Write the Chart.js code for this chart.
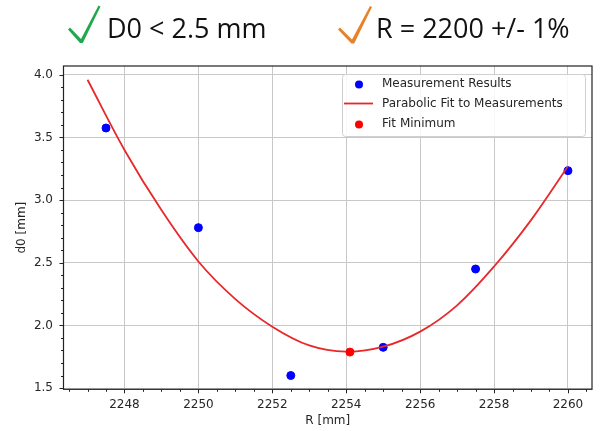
<!DOCTYPE html>
<html>
<head>
<meta charset="utf-8">
<script src="https://cdn.jsdelivr.net/npm/chart.js@4/dist/chart.umd.min.js"></script>
<style>
  body { margin: 0; background: #fff; }
</style>
</head>
<body>
<canvas id="fit-canvas" width="600" height="431"></canvas>
<script>
// header texts
const headLeft = "D0 < 2.5 mm";
const headRight = "R = 2200 +/- 1%";

// measurements
const rValues = [2247.5, 2250, 2252.5, 2255, 2257.5, 2260];
const d0Values = [3.575, 2.78, 1.60, 1.825, 2.45, 3.235];

// parabolic fit curve
const fitR = [2247, 2248, 2249, 2250, 2251, 2252, 2253, 2254, 2255, 2256, 2257, 2258, 2259, 2260];
const fitD0 = [3.96, 3.40, 2.92, 2.51, 2.21, 1.99, 1.84, 1.79, 1.83, 1.95, 2.16, 2.47, 2.84, 3.27];

// minimum of the fit
const minR = [2254.1];
const minD0 = [1.787];

// axis ticks
const xTicks = [2248, 2250, 2252, 2254, 2256, 2258, 2260];
const yTicks = [1.5, 2.0, 2.5, 3.0, 3.5, 4.0];

const canvas = document.getElementById("fit-canvas");

function toPoints(xs, ys) {
    const pts = [];
    for (let i = 0; i < xs.length; i++) {
        pts.push({ x: xs[i], y: ys[i] });
    }
    return pts;
}

function drawCheck(ctx, pts, color) {
    ctx.fillStyle = color;
    ctx.beginPath();
    ctx.moveTo(pts[0][0], pts[0][1]);
    for (let i = 1; i < pts.length; i++) ctx.lineTo(pts[i][0], pts[i][1]);
    ctx.closePath();
    ctx.fill();
}

// frame, ticks, legend and header in matplotlib style
const decorations = {
    id: "decorations",
    afterDraw(chart) {
        const ctx = chart.ctx;
        const a = chart.chartArea;
        const x = chart.scales.x;
        const y = chart.scales.y;
        ctx.save();

        // tick marks
        ctx.strokeStyle = "#222";
        ctx.lineWidth = 1;
        ctx.beginPath();
        for (let v = 2246.5; v <= 2260.6; v += 0.5) {
            const px = Math.round(x.getPixelForValue(v)) + 0.5;
            const major = xTicks.some(t => Math.abs(t - v) < 0.01);
            ctx.moveTo(px, a.bottom);
            ctx.lineTo(px, a.bottom + (major ? 4 : 2.5));
        }
        for (let v = 1.5; v <= 4.05; v += 0.1) {
            const py = Math.round(y.getPixelForValue(v)) + 0.5;
            const major = yTicks.some(t => Math.abs(t - v) < 0.01);
            ctx.moveTo(a.left, py);
            ctx.lineTo(a.left - (major ? 4 : 2.5), py);
        }
        ctx.stroke();

        // frame
        ctx.lineWidth = 1.2;
        ctx.strokeStyle = "#222";
        ctx.strokeRect(a.left, a.top, a.right - a.left, a.bottom - a.top);

        // legend box
        const lx = 342, ly = 74, lw = 243, lh = 62;
        ctx.fillStyle = "rgba(255,255,255,0.85)";
        ctx.strokeStyle = "#d0d0d0";
        ctx.lineWidth = 1;
        ctx.beginPath();
        ctx.roundRect(lx + 0.5, ly + 0.5, lw, lh, 3);
        ctx.fill();
        ctx.stroke();

        ctx.font = "12px 'DejaVu Sans'";
        ctx.textBaseline = "middle";
        ctx.textAlign = "left";
        const rows = [83.5, 103.5, 123.5];
        chart.data.datasets.forEach((ds, i) => {
            const ry = rows[i];
            if (ds.showLine) {
                ctx.strokeStyle = ds.borderColor;
                ctx.lineWidth = ds.borderWidth;
                ctx.beginPath();
                ctx.moveTo(344, ry);
                ctx.lineTo(373, ry);
                ctx.stroke();
            } else {
                ctx.fillStyle = ds.backgroundColor;
                ctx.beginPath();
                ctx.arc(359, ry + 1, 4, 0, Math.PI * 2);
                ctx.fill();
            }
            ctx.fillStyle = "#262626";
            ctx.fillText(ds.label, 382, ry);
        });

        // header
        drawCheck(ctx, [[68, 29.5], [70, 27.5], [81, 39], [98.5, 5.5], [100.5, 6.5], [82.8, 43], [80, 43]], "#22a84c");
        drawCheck(ctx, [[338, 29.5], [340, 27.5], [352, 39.5], [370, 6], [372, 7], [354.2, 43.5], [351.4, 43.5]], "#e8822a");
        ctx.fillStyle = "#111";
        ctx.textBaseline = "alphabetic";
        ctx.font = "27px 'Open Sans'";
        ctx.fillText(headLeft, 107, 37.5);
        ctx.fillText(headRight, 376, 37.5);

        ctx.restore();
    }
};

new Chart(canvas, {
    type: "scatter",
    data: {
        datasets: [
            {
                label: "Measurement Results",
                data: toPoints(rValues, d0Values),
                backgroundColor: "#0000ff",
                borderColor: "#0000ff",
                pointRadius: 4,
                order: 3
            },
            {
                label: "Parabolic Fit to Measurements",
                data: toPoints(fitR, fitD0),
                showLine: true,
                borderColor: "#e8282a",
                borderWidth: 1.8,
                pointRadius: 0,
                tension: 0.35,
                order: 2
            },
            {
                label: "Fit Minimum",
                data: toPoints(minR, minD0),
                backgroundColor: "#ff0000",
                borderColor: "#ff0000",
                pointRadius: 4,
                order: 1
            }
        ]
    },
    plugins: [decorations],
    options: {
        responsive: false,
        animation: false,
        devicePixelRatio: 1,
        layout: { padding: { top: 66, right: 8, left: 0, bottom: 0 } },
        plugins: {
            legend: { display: false },
            tooltip: { enabled: false }
        },
        scales: {
            x: {
                type: "linear",
                min: 2246.35,
                max: 2260.65,
                afterBuildTicks: (scale) => { scale.ticks = xTicks.map(v => ({ value: v })); },
                afterFit: (scale) => { scale.height = 41.7; },
                ticks: {
                    color: "#262626",
                    font: { family: "DejaVu Sans", size: 12 },
                    padding: 8,
                    maxRotation: 0,
                    callback: (v) => String(v)
                },
                grid: { color: "#c8c8c8", lineWidth: 1, drawTicks: false },
                border: { display: false },
                title: {
                    display: true,
                    text: "R [mm]",
                    color: "#262626",
                    font: { family: "DejaVu Sans", size: 12 },
                    padding: { top: 0, bottom: 3 }
                }
            },
            y: {
                min: 1.49,
                max: 4.07,
                afterBuildTicks: (scale) => { scale.ticks = yTicks.map(v => ({ value: v })); },
                afterFit: (scale) => { scale.width = 63.5; },
                ticks: {
                    color: "#262626",
                    font: { family: "DejaVu Sans", size: 12 },
                    padding: 10.5,
                    callback: (v) => v.toFixed(1)
                },
                grid: { color: "#c8c8c8", lineWidth: 1, drawTicks: false },
                border: { display: false },
                title: {
                    display: true,
                    text: "d0 [mm]",
                    color: "#262626",
                    font: { family: "DejaVu Sans", size: 12 },
                    padding: { top: 14.5, bottom: 0 }
                }
            }
        }
    }
});
</script>
</body>
</html>
